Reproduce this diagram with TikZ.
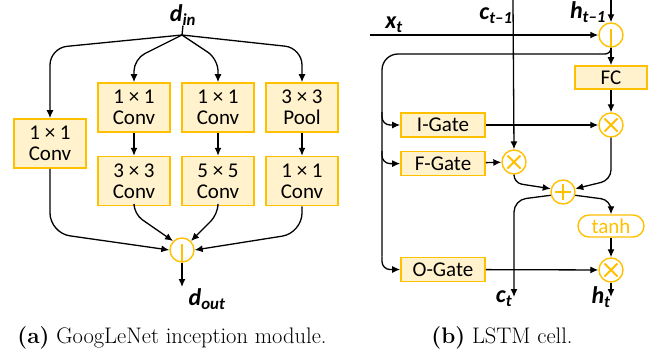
\documentclass[tikz,border=0pt]{standalone}
\usepackage{fontspec}
\newfontfamily\calibri{Carlito}
\usetikzlibrary{positioning, arrows.meta}
\definecolor{gold}{HTML}{FFC000}
\definecolor{cream}{HTML}{FFF2CC}

\begin{document}
\begin{tikzpicture}[x=1pt, y=-1pt,
    every node/.style={inner sep=0pt},
    box/.style={rectangle, draw=gold, fill=cream, line width=1.6pt, minimum width=72pt, minimum height=49pt, align=center, font=\calibri\fontsize{21}{21.5}\selectfont},
    gatebox/.style={box, minimum width=84pt, minimum height=24pt},
    op/.style={circle, draw=gold, fill=white, line width=1.4pt, minimum size=24pt},
    mul/.style={op, path picture={\draw[gold, line width=1.8pt, shift={(path picture bounding box.center)}] (-6.5,-6.5) -- (6.5,6.5) (-6.5,6.5) -- (6.5,-6.5);}},
    add/.style={op, path picture={\draw[gold, line width=1.8pt, shift={(path picture bounding box.center)}] (-8,0) -- (8,0) (0,-8) -- (0,8);}},
    cat/.style={op, path picture={\draw[gold, line width=1.8pt, shift={(path picture bounding box.center)}] (0,-6) -- (0,12);}},
    act/.style={rectangle, rounded corners=11pt, draw=gold, fill=white, line width=1.4pt, minimum width=66pt, minimum height=22pt, text=gold, font=\calibri\fontsize{21}{21.5}\selectfont},
    var/.style={font=\calibri\bfseries\itshape\fontsize{24}{28}\selectfont},
    arr/.style={-{Latex[length=8pt, width=7pt]}, line width=1.3pt},
    wire/.style={line width=1.3pt},
    caption/.style={font=\fontsize{22.5}{27}\selectfont}
]
    \useasboundingbox (0,0) rectangle (654,354);

    % inception module
    \node (din) [var] at (183,15) {d\textsubscript{in}};
    \coordinate (split) at (182,35);
    \node (c1) [box] at (50,143.5) {1 × 1\\Conv};
    \node (c2a) [box] at (134,107.5) {1 × 1\\Conv};
    \node (c3a) [box] at (218,107.5) {1 × 1\\Conv};
    \node (c4a) [box] at (302,107.5) {3 × 3\\Pool};
    \node (c2b) [box, below=23pt of c2a] {3 × 3\\Conv};
    \node (c3b) [box, below=23pt of c3a] {5 × 5\\Conv};
    \node (c4b) [box, below=23pt of c4a] {1 × 1\\Conv};
    \node (concat) [cat] at (182,250) {};
    \coordinate (outend) at (182,287);
    \node (dout) [var] at (207,299) {d\textsubscript{out}};

    \draw[wire] (din.south) -- (split);
    \draw[arr, rounded corners=17pt] (split) -- (50,48) -- (c1.north);
    \draw[arr, rounded corners=12pt] (split) -- (134,59) -- (c2a.north);
    \draw[arr, rounded corners=12pt] (split) -- (218,59) -- (c3a.north);
    \draw[arr, rounded corners=17pt] (split) -- (302,48) -- (c4a.north);

    \draw[arr] (c2a) -- (c2b);
    \draw[arr] (c3a) -- (c3b);
    \draw[arr] (c4a) -- (c4b);

    \draw[arr, rounded corners=20pt] (c1.south) -- (50,233) -- (concat.west);
    \draw[arr, rounded corners=10pt] (c2b.south) -- (134,214) -- (concat.north west);
    \draw[arr, rounded corners=10pt] (c3b.south) -- (218,214) -- (concat.north east);
    \draw[arr, rounded corners=20pt] (c4b.south) -- (302,233) -- (concat.east);
    \draw[arr] (concat.south) -- (outend);

    % LSTM cell
    \node (xt) [var] at (394,25) {x\textsubscript{t}};
    \coordinate (xin) at (370,35);
    \node (ctin) [var] at (496,16) {c\textsubscript{t–1}};
    \coordinate (ctop) at (513,0);
    \node (htin) [var] at (588,12) {h\textsubscript{t–1}};
    \coordinate (htop) at (611,0);
    \node (hcat) [cat] at (611,35) {};
    \node (fc) [gatebox, minimum width=72pt, minimum height=23pt] at (611,77.5) {FC};
    \node (imul) [mul] at (611,125) {};
    \node (ig) [gatebox] at (443,125) {I-Gate};
    \node (fg) [gatebox, below=13pt of ig] {F-Gate};
    \node (fmul) [mul] at (514,162) {};
    \node (plus) [add] at (563,192) {};
    \node (tanh) [act] at (611,226) {tanh};
    \node (omul) [mul] at (611,270) {};
    \node (og) [gatebox] at (443,269.5) {O-Gate};
    \coordinate (ctend) at (514,297);
    \coordinate (htend) at (611,297);
    \node (ct) [var] at (504,299) {c\textsubscript{t}};
    \node (ht) [var] at (601,297) {h\textsubscript{t}};

    \coordinate (fork) at (611,54);
    \coordinate (forkl) at (599,54);
    \coordinate (bus) at (382,54);

    \draw[arr] (xin) -- (hcat.west);
    \draw[arr] (ctop) -- (fmul.north);
    \draw[arr] (htop) -- (hcat.north);
    \draw[arr] (hcat.south) -- (fc.north);
    \draw[wire, rounded corners=6pt] (hcat.south) -- (fork) -- (forkl);
    \draw[wire, rounded corners=16pt] (forkl) -- (bus) -- (bus |- og.north);
    \draw[arr, rounded corners=8pt] (bus |- ig.north) |- (ig.west);
    \draw[arr, rounded corners=8pt] (bus |- fg.north) |- (fg.west);
    \draw[arr, rounded corners=8pt] (bus |- og.north) |- (og.west);

    \draw[arr] (fc) -- (imul);
    \draw[arr] (ig) -- (imul);
    \draw[arr] (fg) -- (fmul);
    \draw[arr, rounded corners=8pt] (fmul.south) -- (514,183) -- (plus.165);
    \draw[arr, rounded corners=10pt] (imul.south) -- (611,180) -- (plus.15);
    \draw[arr, rounded corners=12pt] (plus.195) -- (514,200) -- (ctend);
    \draw[arr, rounded corners=10pt] (plus.345) -- (611,200) -- (tanh.north);
    \draw[arr] (tanh) -- (omul);
    \draw[arr] (og) -- (omul);
    \draw[arr] (omul.south) -- (htend);

    % captions
    \node (capa) [caption] at (172,338) {\textbf{(a)} GoogLeNet inception module.};
    \node (capb) [caption] at (502,338) {\textbf{(b)} LSTM cell.};
\end{tikzpicture}
\end{document}
